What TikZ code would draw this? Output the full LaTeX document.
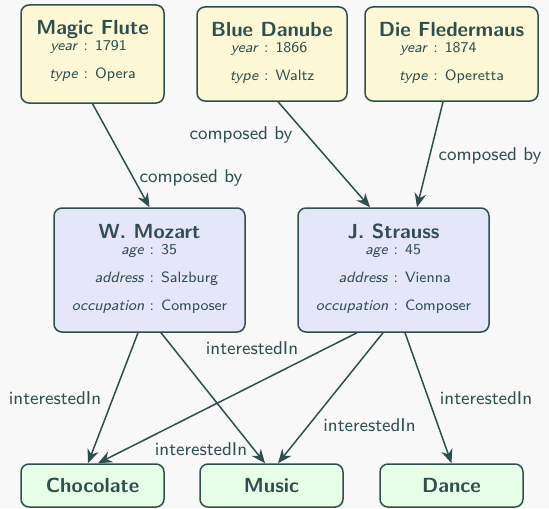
\documentclass[tikz,border=0pt]{standalone}
\usetikzlibrary{arrows.meta}

\definecolor{ink}{HTML}{2F4F4F}
\definecolor{bgc}{HTML}{F8F8F8}
\definecolor{workfill}{HTML}{FCF8D6}
\definecolor{personfill}{HTML}{E6E6FA}
\definecolor{topicfill}{HTML}{E6FFE6}

\newcommand\headfont{\sffamily\bfseries\fontsize{10.2}{12}\selectfont}
\newcommand\attrfont{\sffamily\fontsize{7.5}{14}\selectfont}
\newcommand\lblfont{\sffamily\fontsize{9.25}{11}\selectfont}

% entity content: bold heading above a key : value table
\newcommand\entitytext[2]{%
  \begin{tabular}[t]{@{}c@{}}{\headfont #1}\\[-5.8pt]
    \begin{tabular}[t]{@{}r@{ : }l@{}}#2\end{tabular}%
  \end{tabular}}
\newcommand\key[1]{\textit{#1}}

\tikzset{
  box/.style={draw=ink, line width=0.75pt, rounded corners=4pt, inner sep=0pt},
  work/.style={box, fill=workfill},
  person/.style={box, fill=personfill},
  topic/.style={box, fill=topicfill, minimum width=71.5pt, minimum height=21.5pt,
                font=\headfont, text=ink},
  content/.style={anchor=base, inner sep=0pt, text=ink, font=\attrfont},
  rel/.style={draw=ink, line width=0.75pt,
              -{Stealth[length=7pt,width=5.8pt,inset=2.3pt]}},
  lbl/.style={inner sep=0pt, text=ink, font=\lblfont,
              text height=6.4pt, text depth=0pt},
}

\begin{document}
\begin{tikzpicture}[x=0.5pt, y=-0.5pt]
  \fill[bgc] (0,0) rectangle (549,508);
  \useasboundingbox (0,0) rectangle (549,508);

  % works
  \node[work, minimum width=71.5pt, minimum height=49pt] (mf) at (92.5,54) {};
  \node[work, minimum width=75pt,   minimum height=47pt] (bd) at (272,54) {};
  \node[work, minimum width=86.5pt, minimum height=47pt] (df) at (451.5,54) {};
  \node[content] (mf-t) at ([yshift=-15pt]mf.north)
    {\entitytext{Magic Flute}{\key{year} & 1791\\ \key{type} & Opera}};
  \node[content] (bd-t) at ([yshift=-15pt]bd.north)
    {\entitytext{Blue Danube}{\key{year} & 1866\\ \key{type} & Waltz}};
  \node[content] (df-t) at ([yshift=-15pt]df.north)
    {\entitytext{Die Fledermaus}{\key{year} & 1874\\ \key{type} & Operetta}};

  % composers
  \node[person, minimum width=95.5pt, minimum height=62pt] (moz) at (149.5,270) {};
  \node[person, minimum width=95.5pt, minimum height=62pt] (str) at (393.5,270) {};
  \node[content] (moz-t) at ([yshift=-15.5pt]moz.north)
    {\entitytext{W. Mozart}{\key{age} & 35\\ \key{address} & Salzburg\\ \key{occupation} & Composer}};
  \node[content] (str-t) at ([yshift=-15.5pt]str.north)
    {\entitytext{J. Strauss}{\key{age} & 45\\ \key{address} & Vienna\\ \key{occupation} & Composer}};

  % interests
  \node[topic] (choc)  at (92.5,485.5)  {Chocolate};
  \node[topic] (music) at (271.5,485.5) {Music};
  \node[topic] (dance) at (451.5,485.5) {Dance};

  % composed by
  \draw[rel] (mf.south) -- (moz.north);
  \draw[rel] ([xshift=3pt]bd.south) -- ([xshift=-11.75pt]str.north);
  \draw[rel] ([xshift=-4.25pt]df.south) -- ([xshift=11.75pt]str.north);

  % interestedIn
  \draw[rel] ([xshift=-5.75pt]moz.south) -- ([xshift=-2.25pt]choc.north);
  \draw[rel] ([xshift=5.75pt]moz.south)  -- ([xshift=-3.25pt]music.north);
  \draw[rel] ([xshift=-18.25pt]str.south) -- ([xshift=2.75pt]choc.north);
  \draw[rel] ([xshift=-5.25pt]str.south) -- ([xshift=3.25pt]music.north);
  \draw[rel] ([xshift=5.75pt]str.south)  -- (dance.north);

  % edge labels
  \node[lbl] (l-mf)  at (191,176) {composed by};
  \node[lbl] (l-bd)  at (241,133) {composed by};
  \node[lbl] (l-df)  at (490,154) {composed by};
  \node[lbl] (l-mc)  at (55,398)  {interestedIn};
  \node[lbl] (l-sc)  at (252,348) {interestedIn};
  \node[lbl] (l-mm)  at (201,449) {interestedIn};
  \node[lbl] (l-sm)  at (369.5,425) {interestedIn};
  \node[lbl] (l-sd)  at (486,398) {interestedIn};
\end{tikzpicture}
\end{document}
